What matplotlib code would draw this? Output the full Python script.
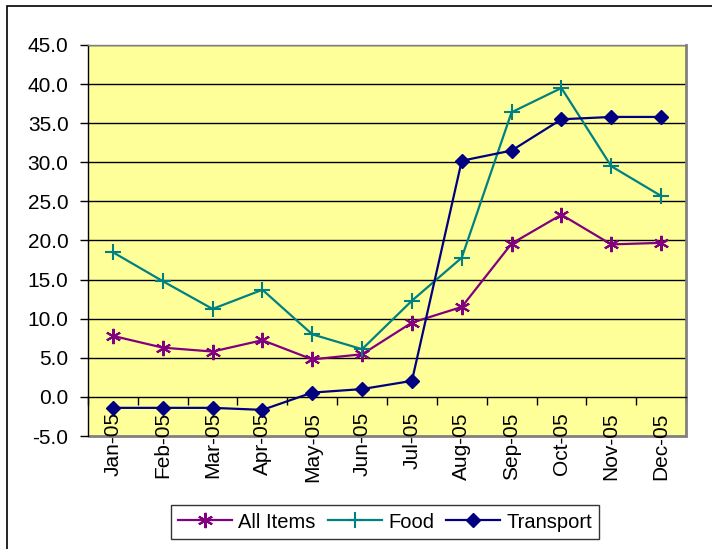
import matplotlib
matplotlib.use("Agg")
import matplotlib.pyplot as plt
from matplotlib.patches import Rectangle
import numpy as np

plt.rcParams['font.family'] = ['Liberation Sans', 'DejaVu Sans']

months = ["Jan-05", "Feb-05", "Mar-05", "Apr-05", "May-05", "Jun-05",
          "Jul-05", "Aug-05", "Sep-05", "Oct-05", "Nov-05", "Dec-05"]
all_items = [7.8, 6.3, 5.8, 7.25, 4.8, 5.45, 9.5, 11.5, 19.6, 23.3, 19.5, 19.7]
food = [18.5, 14.8, 11.25, 13.7, 8.0, 6.1, 12.3, 17.8, 36.4, 39.5, 29.5, 25.7]
transport = [-1.4, -1.4, -1.4, -1.66, 0.55, 1.0, 2.05, 30.2, 31.5, 35.5, 35.8, 35.8]
yticks = [-5, 0, 5, 10, 15, 20, 25, 30, 35, 40, 45]

W, H = 712, 549
fig = plt.figure(figsize=(W/100, H/100), dpi=100)
fig.patch.set_facecolor('white')
fig.patches.append(Rectangle((7/W, -0.02), (W+10)/W, 1.02-6/H, transform=fig.transFigure,
                             fill=False, edgecolor='black', linewidth=1.2))

ax = fig.add_axes([88/W, 1-436/H, 598/W, 391/H])
ax.set_facecolor('#FFFF99')
x = np.arange(len(months))

ax.plot(x, all_items, color='#800080', lw=1.6, marker=(6, 2, 0), ms=11, mew=1.5,
        label='All Items', zorder=3)
ax.plot(x, food, color='#008080', lw=1.6, marker='+', ms=12, mew=1.5,
        label='Food', zorder=3)
ax.plot(x, transport, color='#000080', lw=1.6, marker='D', ms=7.5,
        label='Transport', zorder=4)

ax.set_xlim(-0.5, len(months)-0.5)
ax.set_ylim(-5, 45)
ax.set_yticks(yticks)
ax.set_yticklabels([f"{v:.1f}" for v in yticks], fontsize=15)
for v in yticks[1:]:
    if v != 0:
        ax.axhline(v, color='black', lw=1, zorder=1)

ax.spines['bottom'].set_position(('data', 0))
ax.spines['bottom'].set_color('black')
ax.spines['bottom'].set_linewidth(1)
ax.spines['left'].set_color('black')
ax.spines['left'].set_linewidth(1)
ax.spines['top'].set_color('#808080')
ax.spines['right'].set_color('#808080')
ax.spines['right'].set_linewidth(2)
ax.spines['top'].set_linewidth(1)
ax.add_patch(Rectangle((0, 0), 1, 0.0, transform=ax.transAxes, fill=False,
                       edgecolor='#808080', lw=2, clip_on=False))

ax.set_xticks(x)
ax.set_xticklabels(months, rotation=90, fontsize=15)
ax.tick_params(axis='x', which='major', length=0, pad=11)
ax.set_xticks(np.arange(-0.5, len(months), 1), minor=True)
ax.tick_params(axis='x', which='minor', length=6, direction='out', width=1)
ax.tick_params(axis='y', length=6, width=1, direction='out', pad=8)

leg = fig.legend(loc='center', bbox_to_anchor=(385/W, 1-522/H), ncol=3,
                 fontsize=14.5, frameon=True, fancybox=False, shadow=False,
                 handlelength=2.7, columnspacing=0.6, handletextpad=0.3,
                 borderpad=0.35)
leg.get_frame().set_edgecolor('black')
leg.get_frame().set_linewidth(1)

fig.savefig('out.png', dpi=100)
